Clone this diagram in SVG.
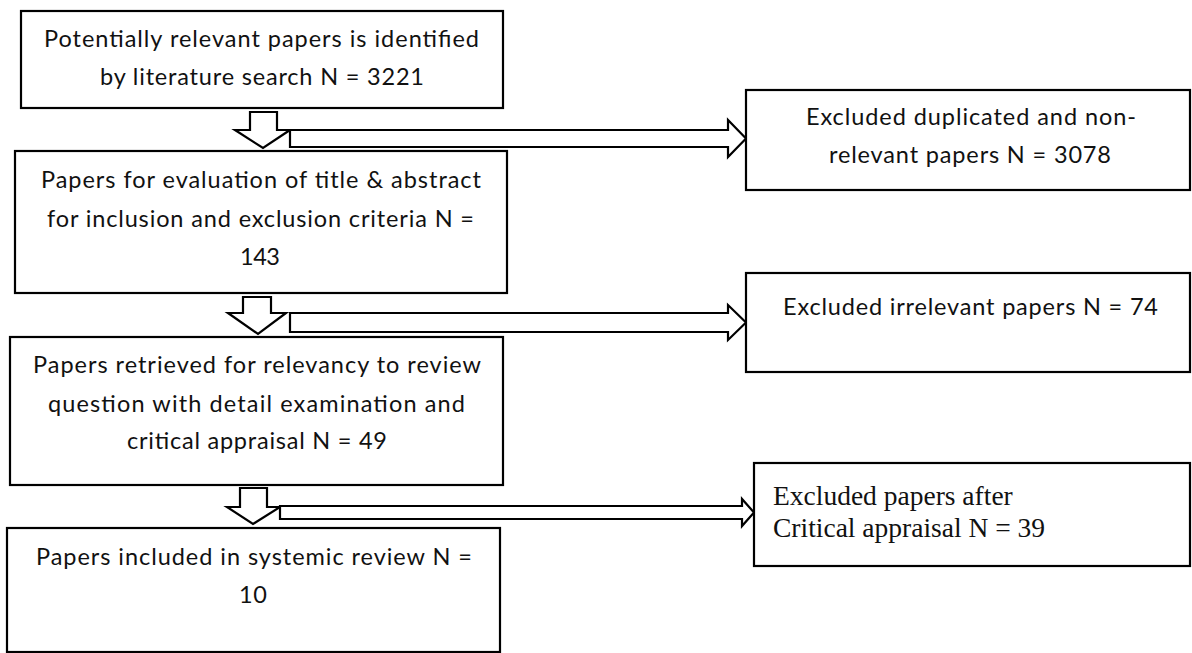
<svg xmlns="http://www.w3.org/2000/svg" width="1192" height="653" viewBox="0 0 1192 653">
<style>
.box{fill:#fff;stroke:#000;stroke-width:2.2}
.arr{fill:#fff;stroke:#000;stroke-width:2.2;stroke-linejoin:miter}
.t{font-family:Lato,"Open Sans","Liberation Sans",sans-serif;font-size:23.5px;fill:#111}
.s{font-family:"Liberation Serif","Times New Roman",serif;font-size:27.5px;fill:#111}
</style>
<rect width="1192" height="653" fill="#fff"/>
<g id="connectors">
<polygon class="arr" points="250,112 277,112 277,130 290,130 263,148 235,130 250,130"/>
<polygon class="arr" points="290,130 728,130 728,120 746,138.5 728,157 728,147 290,147"/>
<polygon class="arr" points="243,297 271,297 271,313 286,313 258,334 228,313 243,313"/>
<polygon class="arr" points="290,313 728,313 728,305 746,322.5 728,340 728,332 290,332"/>
<polygon class="arr" points="240,488 267,488 267,507 280,507 253,524 227,507 240,507"/>
<polygon class="arr" points="280,506 742,506 742,499 754,512.5 742,526 742,519 280,519"/>
</g>
<g id="n1">
<rect class="box" x="21" y="11" width="482" height="97"/>
<text class="t" x="44" y="47" textLength="435">Potentially relevant papers is identified</text>
<text class="t" x="100" y="85" textLength="324">by literature search N = 3221</text>
</g>
<g id="n2">
<rect class="box" x="15" y="151" width="492" height="142"/>
<text class="t" x="41" y="188" textLength="440">Papers for evaluation of title &amp; abstract</text>
<text class="t" x="47" y="227" textLength="427">for inclusion and exclusion criteria N =</text>
<text class="t" x="240" y="265" textLength="40">143</text>
</g>
<g id="n3">
<rect class="box" x="10" y="337" width="493" height="148"/>
<text class="t" x="33" y="373" textLength="448">Papers retrieved for relevancy to review</text>
<text class="t" x="48" y="412" textLength="417">question with detail examination and</text>
<text class="t" x="127" y="449" textLength="260">critical appraisal N = 49</text>
</g>
<g id="n4">
<rect class="box" x="7" y="528" width="493" height="124"/>
<text class="t" x="36" y="565" textLength="436">Papers included in systemic review N =</text>
<text class="t" x="239" y="603" textLength="28">10</text>
</g>
<g id="r1">
<rect class="box" x="746" y="90" width="444" height="100"/>
<text class="t" x="806" y="125" textLength="330">Excluded duplicated and non-</text>
<text class="t" x="829" y="163" textLength="282">relevant papers N = 3078</text>
</g>
<g id="r2">
<rect class="box" x="746" y="273" width="444" height="99"/>
<text class="t" x="783" y="315" textLength="375">Excluded irrelevant papers N = 74</text>
</g>
<g id="r3">
<rect class="box" x="754" y="463" width="436" height="103"/>
<text class="s" x="773" y="505">Excluded papers after</text>
<text class="s" x="773" y="537">Critical appraisal N = 39</text>
</g>
</svg>
